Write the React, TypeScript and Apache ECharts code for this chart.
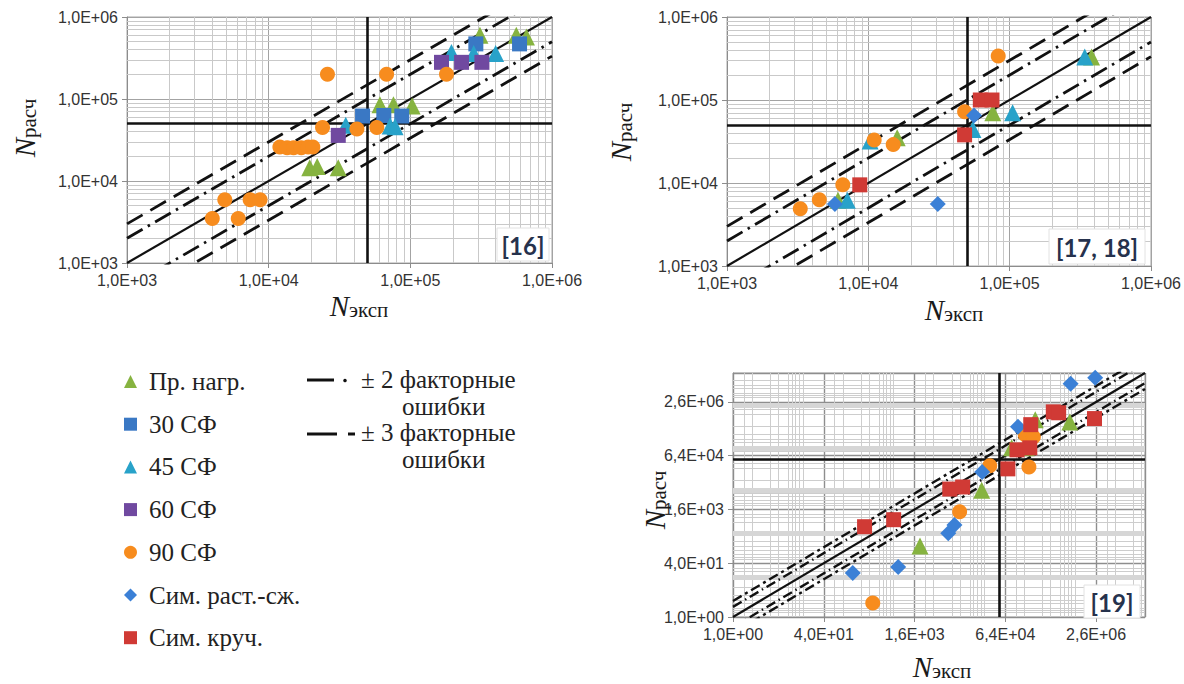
import React, { useEffect, useRef } from 'react';
import * as echarts from 'echarts';

// ---------- categories ----------
const NAMES = ['Пр. нагр.', '30 СФ', '45 СФ', '60 СФ', '90 СФ', 'Сим. раст.-сж.', 'Сим. круч.'];
const COLORS = ['#86b340', '#3a78c4', '#28a2c9', '#7049a0', '#f78c1e', '#3b80d6', '#d03a35'];
const SYMBOLS = ['triangle', 'rect', 'triangle', 'rect', 'circle', 'diamond', 'rect'];

// ---------- panel [16] (top-left): [N_эксп, N_расч] ----------
const TL_PR_NAGR = [[1.95e4, 1.45e4], [2.2e4, 1.5e4], [3.1e4, 1.45e4], [6.1e4, 8.5e4], [7.6e4, 8.5e4], [1.03e5, 8.2e4], [3.1e5, 6.0e5], [5.6e5, 6.0e5], [6.6e5, 5.7e5]];
const TL_30SF = [[4.6e4, 6.2e4], [6.5e4, 6.3e4], [8.7e4, 6.2e4], [2.9e5, 4.7e5], [5.9e5, 4.7e5]];
const TL_45SF = [[3.5e4, 4.8e4], [7.2e4, 4.7e4], [7.8e4, 4.6e4], [1.95e5, 3.7e5], [2.8e5, 3.6e5], [4.0e5, 3.6e5]];
const TL_60SF = [[3.1e4, 3.6e4], [1.66e5, 2.8e5], [2.3e5, 2.8e5], [3.2e5, 2.8e5]];
const TL_90SF = [[4.0e3, 3.5e3], [6.1e3, 3.5e3], [4.9e3, 5.9e3], [7.4e3, 5.9e3], [8.7e3, 5.9e3], [1.2e4, 2.6e4], [1.35e4, 2.55e4], [1.5e4, 2.55e4], [1.7e4, 2.55e4], [1.9e4, 2.6e4], [2.05e4, 2.6e4], [2.6e4, 2.0e5], [6.8e4, 2.0e5], [2.4e4, 4.5e4], [4.2e4, 4.3e4], [5.8e4, 4.5e4], [1.8e5, 2.0e5]];

// ---------- panel [17, 18] (top-right) ----------
const TR_PR_NAGR = [[6.1e3, 6.2e3], [1.6e4, 3.5e4], [7.6e4, 7.0e4], [3.8e5, 3.3e5]];
const TR_45SF = [[7.1e3, 6.2e3], [1.03e4, 3.2e4], [5.5e4, 4.4e4], [1.05e5, 7.0e4], [3.4e5, 3.3e5]];
const TR_90SF = [[3.3e3, 4.9e3], [4.5e3, 6.3e3], [6.6e3, 9.5e3], [1.1e4, 3.3e4], [1.5e4, 2.9e4], [4.8e4, 7.2e4], [8.3e4, 3.4e5]];
const TR_SIM_RS = [[5.8e3, 5.6e3], [5.6e4, 6.5e4], [3.1e4, 5.6e3]];
const TR_SIM_KR = [[8.7e3, 9.5e3], [6.2e4, 1.0e5], [7.5e4, 1.0e5], [4.8e4, 3.8e4]];

// ---------- panel [19] (bottom-right) ----------
const BR_PR_NAGR = [[2.16e5, 7.6e5], [8.8e5, 6.5e5], [8.3e4, 1.1e5], [1.5e5, 1.1e5], [2.45e4, 6.0e3], [2.0e3, 130]];
const BR_90SF = [[1.44e5, 2.7e5], [2.0e5, 2.3e5], [3.4e4, 3.2e4], [1.67e5, 2.95e4], [1.0e4, 1.38e3], [293, 2.6]];
const BR_SIM_RS = [[9.1e5, 9.0e6], [2.47e6, 1.35e7], [1.07e5, 4.7e5], [2.5e4, 2.1e4], [6.3e3, 316], [8.1e3, 550], [130, 20.6], [824, 31]];
const BR_SIM_KR = [[4.5e5, 1.3e6], [5.6e5, 1.22e6], [2.4e6, 8.2e5], [1.8e5, 5.4e5], [1.03e5, 9.6e4], [1.73e5, 1.1e5], [7.1e4, 2.6e4], [6.7e3, 6.5e3], [1.13e4, 7.5e3], [210, 491], [685, 794]];

// ---------- reference lines ----------
const FACTORS = [1, 2, 0.5, 3, 1 / 3];
const THRESHOLD = 5e4;

// axis ranges
const TOP_MIN = 1e3;
const TOP_MAX = 1e6;
const BR_MIN = 1;
const BR_MAX = 1.87e7;

// minor grid positions inside one major interval (fraction of the log interval)
const TOP_MINOR_MULT = [2, 3, 4, 5, 6, 7, 8, 9];
const BR_X_MINOR_FRAC = [0.12, 0.21, 0.41, 0.5, 0.61, 0.65, 0.69, 0.73, 0.77];
const BR_Y_MINOR_FRAC = [0.08, 0.12, 0.17, 0.25, 0.31, 0.4, 0.55, 0.77, 0.86, 0.91];
const BR_Y_BAND_EXP = [0.74, 1.56, 2.36, 3.13, 3.93];

const fmtSci = (v: number) => {
  const s = Number(v).toExponential(1);
  const [m, e] = s.split('e');
  const ei = parseInt(e, 10);
  return m.replace('.', ',') + 'E' + (ei < 0 ? '-' : '+') + String(Math.abs(ei)).padStart(2, '0');
};

const SANS = 'Liberation Sans, Arial, sans-serif';
const SERIF = "'Liberation Serif', 'Times New Roman', serif";

function buildOption() {
  const panels = [
    {
      grid: { left: 127, top: 17, width: 425, height: 246 },
      base: 10, min: TOP_MIN, max: TOP_MAX,
      data: [TL_PR_NAGR, TL_30SF, TL_45SF, TL_60SF, TL_90SF, [], []],
      lineW: 2.8, dash3: [18, 9], dash2: [18, 6, 2.5, 6], symbolSize: 15,
      majorColor: '#a3a3a3',
    },
    {
      grid: { left: 727, top: 17, width: 424, height: 249 },
      base: 10, min: TOP_MIN, max: TOP_MAX,
      data: [TR_PR_NAGR, [], TR_45SF, [], TR_90SF, TR_SIM_RS, TR_SIM_KR],
      lineW: 2.8, dash3: [18, 9], dash2: [18, 6, 2.5, 6], symbolSize: 15,
      majorColor: '#a3a3a3',
    },
    {
      grid: { left: 733, top: 373, width: 412, height: 244 },
      base: 40, min: BR_MIN, max: BR_MAX,
      data: [BR_PR_NAGR, [], [], [], BR_90SF, BR_SIM_RS, BR_SIM_KR],
      lineW: 2.4, dash3: [10, 4, 3, 4], dash2: [10, 4, 1.5, 4], symbolSize: 15,
      majorColor: '#8e8e8e',
    },
  ];

  const grids: any[] = [];
  const xAxes: any[] = [];
  const yAxes: any[] = [];
  const series: any[] = [];

  panels.forEach((p, gi) => {
    grids.push({ ...p.grid, show: true, borderColor: '#a8a8a8', borderWidth: 1, backgroundColor: '#fff' });
    const isBR = p.base === 40;
    const mkAxis = () => ({
      type: 'log',
      gridIndex: gi,
      logBase: p.base,
      min: p.min,
      max: p.max,
      interval: 1,
      axisLine: { show: true, onZero: false, lineStyle: { color: '#8c8c8c', width: 1 } },
      axisTick: { show: true, length: 5, lineStyle: { color: '#8c8c8c' } },
      axisLabel: {
        formatter: fmtSci, fontFamily: SANS, fontSize: 16, color: '#333', margin: 9,
        showMaxLabel: !isBR, showMinLabel: true,
      },
      splitLine: { show: true, lineStyle: { color: p.majorColor, width: isBR ? 1.4 : 1 } },
    });
    xAxes.push(mkAxis());
    yAxes.push(mkAxis());

    // minor grid lines
    const minorX: number[] = [];
    const minorY: number[] = [];
    const bands: number[] = [];
    if (!isBR) {
      for (let k = 3; k < 6; k++) {
        TOP_MINOR_MULT.forEach((m) => { minorX.push(m * Math.pow(10, k)); minorY.push(m * Math.pow(10, k)); });
      }
    } else {
      for (let n = 0; n < 5; n++) {
        BR_X_MINOR_FRAC.forEach((f) => { if (n + f < 4.54) minorX.push(Math.pow(40, n + f)); });
        BR_Y_MINOR_FRAC.forEach((f) => { if (n + f < 4.54) minorY.push(Math.pow(40, n + f)); });
      }
      BR_Y_BAND_EXP.forEach((e) => bands.push(Math.pow(40, e)));
    }
    const gridLines: any[] = [
      ...minorX.map((v) => ({ xAxis: v })),
      ...minorY.map((v) => ({ yAxis: v })),
      ...bands.map((v) => ({ yAxis: v, lineStyle: { color: '#d6d6d6', width: 5, type: 'solid' } })),
    ];
    series.push({
      name: 'grid' + gi,
      type: 'scatter',
      xAxisIndex: gi, yAxisIndex: gi,
      data: [[p.min, p.min]],
      symbolSize: 0,
      silent: true,
      z: 1,
      markLine: {
        silent: true,
        z: 1,
        symbol: ['none', 'none'],
        label: { show: false },
        emphasis: { disabled: true },
        lineStyle: { color: isBR ? '#cdcdcd' : '#c9c9c9', width: 1, type: 'solid' },
        data: gridLines,
      },
    });

    // threshold lines
    series.push({
      name: 'thr' + gi,
      type: 'scatter',
      xAxisIndex: gi, yAxisIndex: gi,
      data: [[p.min, p.min]],
      symbolSize: 0,
      silent: true,
      z: 3,
      markLine: {
        silent: true,
        z: 3,
        symbol: ['none', 'none'],
        label: { show: false },
        emphasis: { disabled: true },
        lineStyle: { color: '#111', width: 2.6, type: 'solid' },
        data: [{ xAxis: THRESHOLD }, { yAxis: THRESHOLD }],
      },
    });

    // y = f * x reference lines
    FACTORS.forEach((f) => {
      const type = f === 1 ? 'solid' : (f === 2 || f === 0.5) ? p.dash2 : p.dash3;
      series.push({
        name: 'diag' + gi + '_' + f,
        type: 'line',
        xAxisIndex: gi, yAxisIndex: gi,
        data: [[p.min, p.min * f], [p.max, p.max * f]],
        symbol: 'none',
        clip: true,
        silent: true,
        z: 4,
        lineStyle: { color: '#111', width: f === 1 ? 2.2 : p.lineW, type, cap: 'butt' },
        emphasis: { disabled: true },
      });
    });

    // markers
    p.data.forEach((d, i) => {
      if (!d.length) return;
      series.push({
        name: NAMES[i],
        type: 'scatter',
        xAxisIndex: gi, yAxisIndex: gi,
        data: d,
        symbol: SYMBOLS[i],
        symbolSize: SYMBOLS[i] === 'triangle' ? 17 : SYMBOLS[i] === 'diamond' ? 16 : p.symbolSize,
        itemStyle: { color: COLORS[i], opacity: 1 },
        z: 10,
        emphasis: { disabled: true },
      });
    });
  });

  const titleRich = {
    n: { fontFamily: SERIF, fontStyle: 'italic', fontSize: 29, fill: '#1a1a1a', lineHeight: 30, verticalAlign: 'bottom' },
    s: { fontFamily: SERIF, fontSize: 21, fill: '#1a1a1a', lineHeight: 10, verticalAlign: 'bottom' },
  };
  const title = (x: number, y: number, sub: string, rot: boolean) => ({
    type: 'text',
    x, y,
    rotation: rot ? Math.PI / 2 : 0,
    z: 50,
    style: { text: '{n|N}{s|' + sub + '}', rich: titleRich, align: 'center', verticalAlign: 'middle' },
  });
  const tagBox = (x: number, y: number, w: number, h: number, text: string) => ({
    type: 'group',
    z: 60,
    children: [
      { type: 'rect', z: 60, shape: { x, y, width: w, height: h }, style: { fill: '#fff', stroke: '#e2e2e2', lineWidth: 1 } },
      { type: 'text', z: 61, x: x + w / 2, y: y + h / 2 + 1, style: { text, fontFamily: 'Lato, Open Sans, sans-serif', fontWeight: 'bold', fontSize: 24, fill: '#26324d', align: 'center', verticalAlign: 'middle' } },
    ],
  });
  const legTxt = (x: number, y: number, text: string) => ({
    type: 'text', x, y, z: 50,
    style: { text, fontFamily: SERIF, fontSize: 25, lineHeight: 21, fill: '#222', align: 'left', verticalAlign: 'middle' },
  });

  const graphic: any[] = [
    title(359, 305, 'эксп', false),
    title(954, 309, 'эксп', false),
    title(942, 666, 'эксп', false),
    title(24, 128, 'расч', true),
    title(620, 132, 'расч', true),
    title(654, 500, 'расч', true),
    tagBox(497, 228, 52, 33, '[16]'),
    tagBox(1049, 229, 96, 35, '[17, 18]'),
    tagBox(1084, 585, 56, 33, '[19]'),
    // line legend
    { type: 'line', z: 50, shape: { x1: 307, y1: 380, x2: 334, y2: 380 }, style: { stroke: '#111', lineWidth: 3 } },
    { type: 'circle', z: 50, shape: { cx: 345, cy: 380.5, r: 1.8 }, style: { fill: '#111' } },
    legTxt(361, 379, '± 2 факторные'),
    legTxt(402, 406, 'ошибки'),
    { type: 'line', z: 50, shape: { x1: 307, y1: 434, x2: 337, y2: 434 }, style: { stroke: '#111', lineWidth: 3 } },
    { type: 'line', z: 50, shape: { x1: 348, y1: 434, x2: 355, y2: 434 }, style: { stroke: '#111', lineWidth: 3 } },
    legTxt(361, 432, '± 3 факторные'),
    legTxt(402, 459, 'ошибки'),
  ];

  return {
    animation: false,
    backgroundColor: '#fff',
    grid: grids,
    xAxis: xAxes,
    yAxis: yAxes,
    legend: {
      data: NAMES,
      orient: 'vertical',
      left: 119,
      top: 364,
      itemWidth: 13,
      itemHeight: 13,
      itemGap: 17.7,
      selectedMode: false,
      textStyle: { fontFamily: SERIF, fontSize: 25, color: '#222', padding: [0, 0, 0, 7] },
    },
    graphic,
    series,
  };
}

export default function App() {
  const ref = useRef<HTMLDivElement>(null);
  useEffect(() => {
    if (!ref.current) return;
    const chart = echarts.init(ref.current, null, { renderer: 'svg' });
    chart.setOption(buildOption() as any);
    return () => chart.dispose();
  }, []);
  return (
    <div
      ref={ref}
      style={{ position: 'absolute', left: 0, top: 0, width: 1184, height: 684, background: '#fff' }}
    />
  );
}
